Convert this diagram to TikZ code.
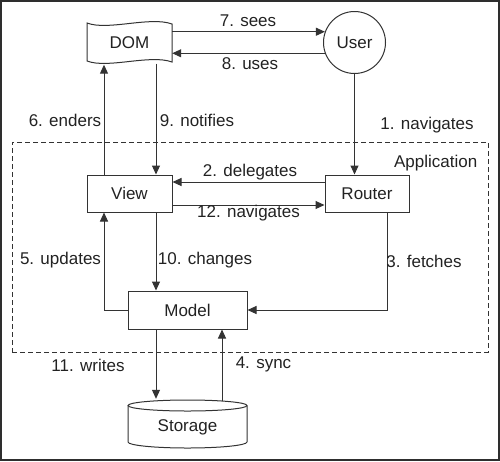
\documentclass[tikz,border=0pt]{standalone}
\usepackage{fontspec}
\setmainfont{Liberation Sans}
\usetikzlibrary{arrows.meta}
\definecolor{ln}{HTML}{333333}
\definecolor{tx}{HTML}{222222}
\begin{document}
\begin{tikzpicture}[x=1pt,y=-1pt,
  every node/.style={text=tx,font=\fontsize{17}{19}\selectfont,inner sep=0pt},
  box/.style={draw=ln,line width=1pt,minimum height=37pt},
  arr/.style={draw=ln,line width=1pt,-{Triangle[length=9pt,width=8pt]}},
  plain/.style={draw=ln,line width=1pt},
  lbl/.style={anchor=center}]
\useasboundingbox (0,0) rectangle (500,461);
\draw[ln!90!black,line width=1.5pt] (0.75,0.75) rectangle (498.75,459.75);

% DOM tape shape
\draw[ln,line width=1pt,fill=white] (87,23) .. controls (108,31) and (150,16) .. (172,24)
  -- (172,62) .. controls (150,54) and (108,69) .. (87,61) -- cycle;
\node[minimum width=85pt,minimum height=39pt] (DOM) at (129.5,43) {DOM};
\node[draw=ln,line width=1pt,circle,minimum size=62pt] (User) at (354.5,42.5) {User};

% application frame
\node[draw=ln,dash pattern=on 5pt off 3pt,line width=1pt,minimum width=476pt,minimum height=210pt] (app) at (250,247) {};
\node[anchor=east] (applbl) at (477.5,163) {Application};

\node[box,minimum width=85pt] (View) at (129.5,193.5) {View};
\node[box,minimum width=84pt] (Router) at (367,193.5) {Router};
\node[box,minimum width=119pt,minimum height=38pt] (Model) at (187.5,310) {Model};

% storage cylinder
\draw[ln,line width=1pt] (128,405.5) -- (128,442) arc[start angle=180,end angle=360,x radius=59.5pt,y radius=6pt] -- (247,405.5);
\draw[ln,line width=1pt] (187.5,405.5) ellipse[x radius=59.5pt,y radius=5.5pt];
\node[minimum width=119pt,minimum height=48pt] (Storage) at (187.5,424) {};
\node (storlbl) at (187.5,427) {Storage};

% connectors
\draw[arr] (DOM.east |- User.160) -- (User.160);
\draw[arr] (User.200) -- (DOM.east |- User.200);
\draw[arr] (User.south) -- (User.south |- Router.north);
\draw[arr] ([xshift=-25.5pt]View.north) -- ([xshift=-25.5pt,yshift=-2pt]DOM.south);
\draw[arr] ([xshift=26.5pt,yshift=-1pt]DOM.south) -- ([xshift=26.5pt]View.north);
\draw[arr] ([yshift=11.5pt]Router.west) -- ([yshift=11.5pt]View.east);
\draw[arr] ([yshift=-11.5pt]View.east) -- ([yshift=-11.5pt]Router.west);
\draw[arr] (Model.west) -| ([xshift=-25.5pt]View.south);
\draw[arr] ([xshift=26.5pt]View.south) -- ([xshift=26.5pt]View.south |- Model.north);
\draw[arr] ([xshift=20pt]Router.south) |- (Model.east);
\draw[arr] ([xshift=-31.5pt]Model.south) -- ([xshift=-31.5pt,yshift=1pt]Storage.north);
\draw[arr] ([xshift=34.5pt,yshift=-1pt]Storage.north) -- ([xshift=34.5pt]Model.south);

% labels
\node[lbl] (l7) at (248,21) {7. sees};
\node[lbl] (l8) at (250,64) {8. uses};
\node[lbl] (l6) at (65,120) {6. enders};
\node[lbl] (l9) at (197,120) {9. notifies};
\node[lbl] (l1) at (427,125) {1. navigates};
\node[lbl] (l2) at (250,172) {2. delegates};
\node[lbl] (l12) at (248.5,213) {12. navigates};
\node[lbl] (l5) at (60.5,260) {5. updates};
\node[lbl] (l10) at (205,260) {10. changes};
\node[lbl] (l3) at (424,261) {3. fetches};
\node[lbl] (l11) at (88,365) {11. writes};
\node[lbl] (l4) at (263.5,364) {4. sync};
\end{tikzpicture}
\end{document}
